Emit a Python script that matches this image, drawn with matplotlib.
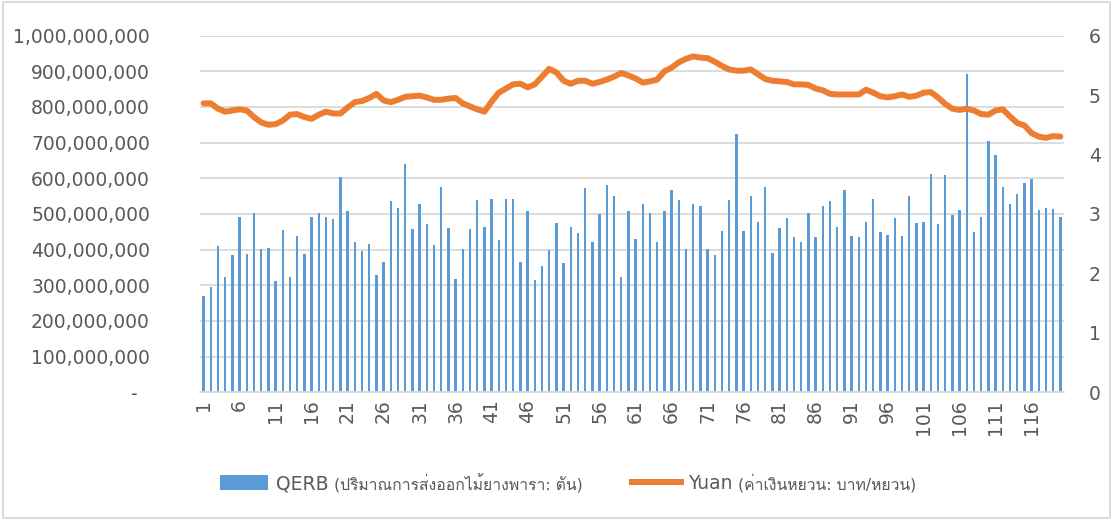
import numpy as np
import matplotlib
matplotlib.use("Agg")
import matplotlib.pyplot as plt
from matplotlib import font_manager, ft2font
from matplotlib.ticker import FuncFormatter
from matplotlib.patches import Patch, Rectangle
from matplotlib.lines import Line2D

plt.rcParams['font.family'] = ['DejaVu Sans', 'Noto Sans', 'Liberation Sans']

# look for an installed family that has Thai glyphs
thai_fams = []
for f in font_manager.fontManager.ttflist:
    try:
        cm = ft2font.FT2Font(f.fname).get_charmap()
    except Exception:
        continue
    if 0x0E01 in cm and 0x0E49 in cm and f.name not in thai_fams:
        thai_fams.append(f.name)

# export quantity of rubberwood (tons), months 1..120
qerb = [270, 294, 409, 323, 384, 492, 388, 503, 402, 404,
        312, 456, 323, 438, 388, 492, 503, 492, 485, 604,
        507, 420, 395, 417, 330, 366, 536, 518, 640, 457,
        528, 472, 413, 576, 460, 319, 402, 457, 539, 463,
        543, 427, 543, 543, 366, 507, 316, 355, 399, 474,
        362, 463, 446, 572, 420, 500, 582, 551, 323, 507,
        431, 528, 503, 420, 507, 568, 539, 402, 528, 522,
        402, 384, 452, 539, 723, 452, 551, 478, 576, 391,
        460, 489, 434, 420, 503, 434, 522, 536, 463, 568,
        438, 434, 478, 543, 449, 442, 489, 438, 551, 474,
        478, 611, 471, 608, 496, 510, 892, 449, 492, 705,
        665, 576, 528, 557, 586, 597, 510, 518, 514, 492]
qerb = np.array(qerb) * 1e6

# baht per yuan
yuan = [4.86, 4.86, 4.77, 4.72, 4.74, 4.76, 4.74, 4.63, 4.54, 4.50,
        4.51, 4.57, 4.67, 4.68, 4.63, 4.60, 4.67, 4.72, 4.69, 4.69,
        4.79, 4.88, 4.90, 4.95, 5.02, 4.91, 4.88, 4.92, 4.97, 4.98,
        4.99, 4.96, 4.92, 4.92, 4.94, 4.95, 4.86, 4.81, 4.76, 4.72,
        4.89, 5.04, 5.11, 5.18, 5.19, 5.13, 5.18, 5.31, 5.44, 5.38,
        5.24, 5.19, 5.24, 5.24, 5.19, 5.22, 5.26, 5.31, 5.37, 5.33,
        5.28, 5.21, 5.23, 5.26, 5.40, 5.46, 5.55, 5.61, 5.65, 5.63,
        5.62, 5.56, 5.49, 5.43, 5.41, 5.41, 5.43, 5.35, 5.27, 5.24,
        5.23, 5.22, 5.18, 5.18, 5.17, 5.11, 5.08, 5.02, 5.01, 5.01,
        5.01, 5.01, 5.09, 5.04, 4.98, 4.96, 4.98, 5.01, 4.97, 4.99,
        5.04, 5.05, 4.96, 4.85, 4.77, 4.75, 4.77, 4.74, 4.68, 4.67,
        4.74, 4.76, 4.64, 4.53, 4.49, 4.36, 4.30, 4.28, 4.31, 4.30]

months = np.arange(1, len(qerb) + 1)
xtick_labels = [str(m) for m in months[::5]]

lbl_qerb = "QERB"
lbl_qerb_th = "(ปริมาณการส่งออกไม้ยางพารา: ตัน)"
lbl_yuan = "Yuan"
lbl_yuan_th = "(ค่าเงินหยวน: บาท/หยวน)"

blue = '#5B9BD5'
orange = '#ED7D31'
grey_txt = '#595959'
grid_c = '#D9D9D9'

fig = plt.figure(figsize=(11.13, 5.20), dpi=100)
ax = fig.add_axes([200/1113, 1 - 392.3/520, 864/1113, (392.3 - 35.6)/520])
ax2 = ax.twinx()

ax.bar(months, qerb, width=0.34, color=blue, zorder=2)
ax2.plot(months, yuan, color=orange, lw=4.3, solid_capstyle='round', zorder=3)

ax.set_xlim(0.5, len(months) + 0.5)
ax.set_ylim(0, 1e9)
ax.set_yticks(np.arange(0, 1.01e9, 1e8))
ax.yaxis.set_major_formatter(FuncFormatter(lambda v, p: '-  ' if v == 0 else f'{v:,.0f}'))
ax2.set_ylim(0, 6)
ax2.set_yticks(range(0, 7))

ax.set_xticks(months[::5])
ax.set_xticklabels(xtick_labels, rotation=90)

ax.grid(axis='y', color=grid_c, lw=1.3, zorder=0)
ax.set_axisbelow(True)
for a in (ax, ax2):
    for s in a.spines.values():
        s.set_visible(False)
ax.spines['bottom'].set_visible(True)
ax.spines['bottom'].set_color(grid_c)
ax.spines['bottom'].set_linewidth(1.3)

ax.tick_params(axis='y', length=0, pad=36, labelsize=13.5, labelcolor=grey_txt)
ax.tick_params(axis='x', length=0, pad=5, labelsize=13.5, labelcolor=grey_txt)
ax2.tick_params(axis='y', length=0, pad=18, labelsize=13.5, labelcolor=grey_txt)

handles = [Patch(facecolor=blue), Line2D([0], [0], color=orange, lw=4.3)]
leg = fig.legend(handles, [lbl_qerb, lbl_yuan], loc='center', bbox_to_anchor=(0.428, 0.07),
                 ncol=2, frameon=False, fontsize=13.5, handlelength=2.6, handleheight=0.8,
                 handletextpad=0.4, columnspacing=16.2, labelcolor=grey_txt)

fig.patches.append(Rectangle((0.003, 0.004), 0.994, 0.992, transform=fig.transFigure,
                             fill=False, edgecolor=grid_c, lw=1.3))

# Thai part of each legend label, in a smaller size, right after the English part
fig.canvas.draw()
for t, th in zip(leg.get_texts(), [lbl_qerb_th, lbl_yuan_th]):
    bb = t.get_window_extent()
    fx, fy = fig.transFigure.inverted().transform((bb.x1 + 5, (bb.y0 + bb.y1) / 2))
    fig.text(fx, fy, th, ha='left', va='center', fontsize=11.3, color=grey_txt,
             family=['DejaVu Sans'] + thai_fams[:1])

fig.savefig('out.png', dpi=100)
